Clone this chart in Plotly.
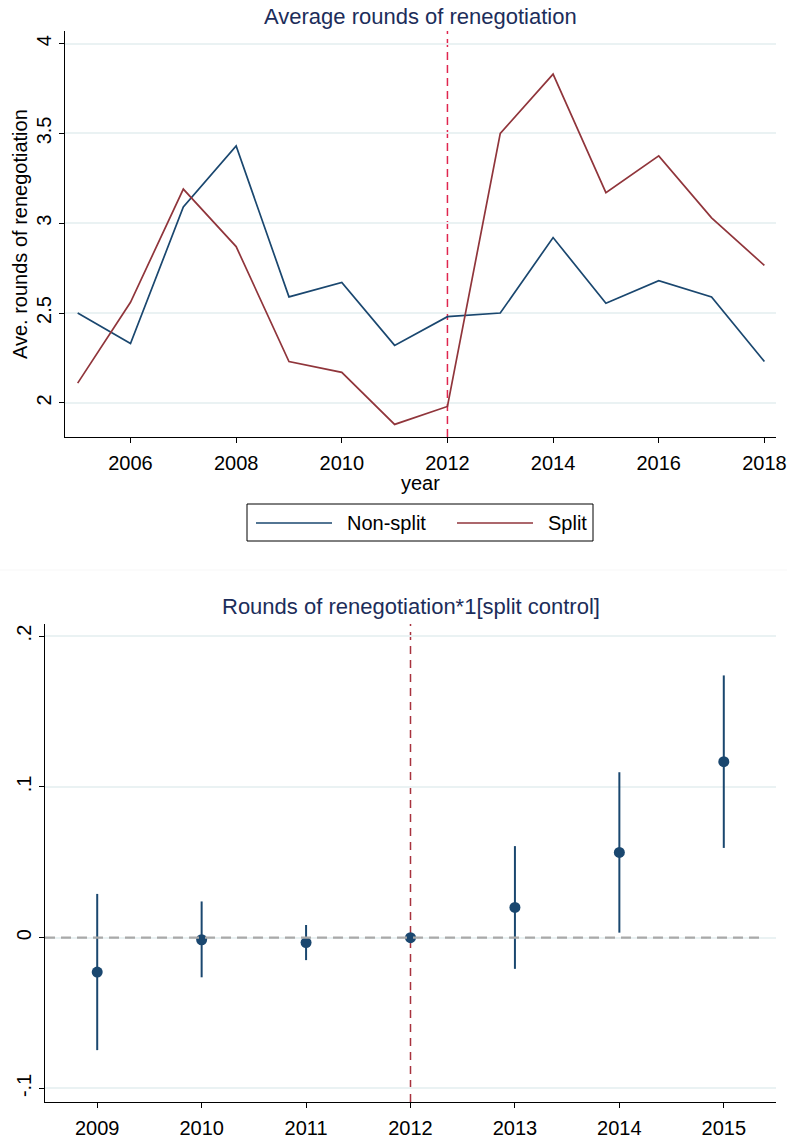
import plotly.graph_objects as go

# ---------------- data ----------------
years_top = [2005, 2006, 2007, 2008, 2009, 2010, 2011, 2012, 2013, 2014, 2015, 2016, 2017, 2018]
nonsplit = [2.50, 2.33, 3.09, 3.43, 2.59, 2.67, 2.32, 2.48, 2.50, 2.92, 2.555, 2.68, 2.59, 2.23]
split = [2.11, 2.56, 3.19, 2.87, 2.23, 2.17, 1.88, 1.98, 3.50, 3.83, 3.17, 3.375, 3.03, 2.765]

years_bot = [2009, 2010, 2011, 2012, 2013, 2014, 2015]
coef = [-0.0228, -0.0014, -0.0033, 0.0, 0.020, 0.0565, 0.1167]
ci_hi = [0.029, 0.024, 0.0084, 0.0, 0.0607, 0.1097, 0.1739]
ci_lo = [-0.0746, -0.0263, -0.0149, 0.0, -0.0207, 0.0033, 0.0595]

top_xticks = [2006, 2008, 2010, 2012, 2014, 2016, 2018]
top_yticks = [2, 2.5, 3, 3.5, 4]
top_yticklabels = ["2", "2.5", "3", "3.5", "4"]
bot_yticks = [-0.1, 0, 0.1, 0.2]
bot_yticklabels = ["-.1", "0", ".1", ".2"]

# ---------------- style ----------------
W, H = 787, 1142
FONT = "Liberation Sans, Arial, sans-serif"
NAVY = "#1a476f"
MAROON = "#90353b"
GRID = "#eaf2f3"
TITLE_C = "#1c2d5a"


def px_x(x):
    return x / W


def px_y(y):
    return 1 - y / H


fig = go.Figure()

fig.add_trace(go.Scatter(x=years_top, y=nonsplit, mode="lines", name="Non-split",
                         line=dict(color=NAVY, width=1.7), xaxis="x", yaxis="y",
                         showlegend=False))
fig.add_trace(go.Scatter(x=years_top, y=split, mode="lines", name="Split",
                         line=dict(color=MAROON, width=1.7), xaxis="x", yaxis="y",
                         showlegend=False))

err_plus = [h - c for h, c in zip(ci_hi, coef)]
err_minus = [c - l for c, l in zip(coef, ci_lo)]
fig.add_trace(go.Scatter(x=years_bot, y=coef, mode="markers",
                         marker=dict(color=NAVY, size=11),
                         error_y=dict(type="data", symmetric=False, array=err_plus,
                                      arrayminus=err_minus, width=0, thickness=2,
                                      color=NAVY),
                         xaxis="x2", yaxis="y2", showlegend=False))

axis_common = dict(showline=True, linecolor="black", linewidth=1, ticks="outside",
                   ticklen=5, tickcolor="black", tickwidth=1, zeroline=False,
                   automargin=False,
                   tickfont=dict(family=FONT, size=20, color="black"))

fig.update_layout(
    template="none",
    width=W, height=H,
    margin=dict(l=0, r=0, t=0, b=0),
    paper_bgcolor="white", plot_bgcolor="white",
    font=dict(family=FONT, size=20, color="black"),
    showlegend=False,
    xaxis=dict(domain=[px_x(65), px_x(776)], range=[2004.76, 2018.22],
               tickvals=top_xticks, showgrid=False, anchor="y", **axis_common),
    yaxis=dict(domain=[px_y(437), px_y(31)], range=[1.81, 4.07],
               tickvals=top_yticks, ticktext=top_yticklabels, tickangle=-90,
               showgrid=True, gridcolor=GRID, gridwidth=1.5, anchor="x", **axis_common),
    xaxis2=dict(domain=[px_x(45), px_x(776)], range=[2008.5, 2015.5],
                tickvals=years_bot, showgrid=False, anchor="y2", **axis_common),
    yaxis2=dict(domain=[px_y(1102), px_y(624)], range=[-0.109, 0.208],
                tickvals=bot_yticks, ticktext=bot_yticklabels, tickangle=-90,
                showgrid=True, gridcolor=GRID, gridwidth=1.5, anchor="x2", **axis_common),
)
fig.update_xaxes(ticklabelstandoff=3)

shapes = [
    # vertical reference lines at 2012
    dict(type="line", xref="x", yref="y domain", x0=2012, x1=2012, y0=0, y1=1,
         line=dict(color="#e0264f", width=1.5, dash="8px,5px"), layer="below"),
    dict(type="line", xref="x2", yref="y2 domain", x0=2012, x1=2012, y0=0, y1=1,
         line=dict(color="#a8323e", width=1.5, dash="8px,6px"), layer="below"),
    # zero line bottom chart
    dict(type="line", xref="x2 domain", yref="y2", x0=0, x1=0.98, y0=0, y1=0,
         line=dict(color="#a9a9a9", width=2.2, dash="10px,6px"), layer="above"),
    # faint separator between panels
    dict(type="line", xref="paper", yref="paper", x0=0, x1=1, y0=px_y(570), y1=px_y(570),
         line=dict(color="#f7f7f7", width=1)),
    # legend box
    dict(type="rect", xref="paper", yref="paper", x0=px_x(247), x1=px_x(593),
         y0=px_y(541), y1=px_y(504), line=dict(color="black", width=1)),
    dict(type="line", xref="paper", yref="paper", x0=px_x(256), x1=px_x(332),
         y0=px_y(523), y1=px_y(523), line=dict(color=NAVY, width=1.7)),
    dict(type="line", xref="paper", yref="paper", x0=px_x(457), x1=px_x(533),
         y0=px_y(523), y1=px_y(523), line=dict(color=MAROON, width=1.7)),
]
fig.update_layout(shapes=shapes)

annotations = [
    dict(text="Average rounds of renegotiation", xref="paper", yref="paper",
         x=px_x(420.5), y=px_y(16), xanchor="center", yanchor="middle",
         showarrow=False, font=dict(family=FONT, size=22, color=TITLE_C)),
    dict(text="Rounds of renegotiation*1[split control]", xref="paper", yref="paper",
         x=px_x(410.5), y=px_y(606), xanchor="center", yanchor="middle",
         showarrow=False, font=dict(family=FONT, size=22, color=TITLE_C)),
    dict(text="Ave. rounds of renegotiation", xref="paper", yref="paper",
         x=px_x(20), y=px_y(234), xanchor="center", yanchor="middle", textangle=-90,
         showarrow=False, font=dict(family=FONT, size=20, color="black")),
    dict(text="year", xref="paper", yref="paper",
         x=px_x(420.5), y=px_y(483), xanchor="center", yanchor="middle",
         showarrow=False, font=dict(family=FONT, size=20, color="black")),
    dict(text="Non-split", xref="paper", yref="paper",
         x=px_x(345), y=px_y(523), xanchor="left", yanchor="middle",
         showarrow=False, font=dict(family=FONT, size=20, color="black")),
    dict(text="Split", xref="paper", yref="paper",
         x=px_x(546), y=px_y(523), xanchor="left", yanchor="middle",
         showarrow=False, font=dict(family=FONT, size=20, color="black")),
]
fig.update_layout(annotations=annotations)

fig.write_html(
    "out.html",
    config={"displayModeBar": False},
    post_script="document.body.style.margin='0';document.body.style.overflow='hidden';"
                "document.documentElement.style.overflow='hidden';",
)
